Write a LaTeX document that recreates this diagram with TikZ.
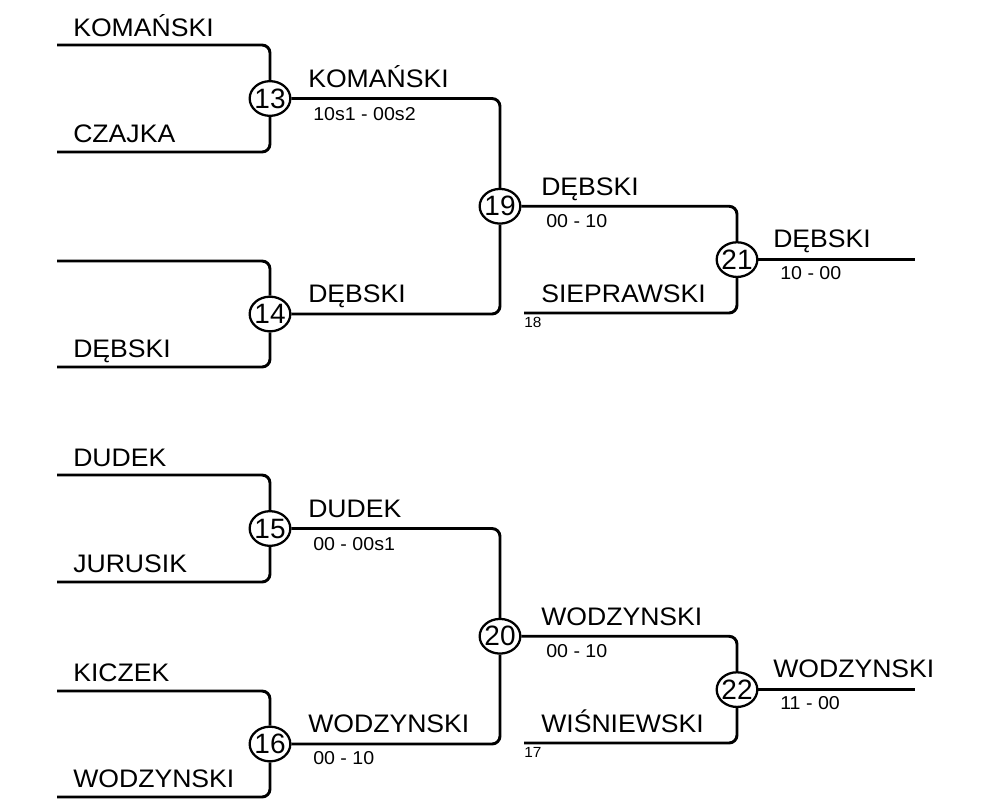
\documentclass[tikz,border=0pt]{standalone}
\usepackage{fontspec}
\setmainfont{Liberation Sans}
\newfontfamily\namefont[FakeStretch=1.05]{Liberation Sans}
\newfontfamily\scorefont[FakeStretch=1.05]{Liberation Sans}
\usetikzlibrary{shapes.geometric}

\begin{document}
\begin{tikzpicture}[line join=round,x=0.75pt,y=-0.75pt,
		game/.style={ellipse,draw,line width=1.7pt,minimum width=30.5pt,minimum height=26pt,inner xsep=-2pt,inner ysep=0pt,font=\fontsize{21}{21}\selectfont},
		player/.style={anchor=base west,inner sep=0pt,font=\namefont\fontsize{19}{22}\selectfont},
		score/.style={anchor=base west,inner sep=0pt,font=\scorefont\fontsize{14}{16}\selectfont},
		seed/.style={anchor=base west,inner sep=0pt,font=\scorefont\fontsize{11}{13}\selectfont},
		branch/.style={line width=2.2pt,rounded corners=6pt}]
	\useasboundingbox (0,0) rectangle (994,810);
	\begin{scope}
		\coordinate (a1) at (57,45);
		\coordinate (a2) at (57,152);
		\coordinate (a3) at (57,261);
		\coordinate (a4) at (57,367);
		\node[game] (g13) at (270,98.5) {13};
		\node[game] (g14) at (270,314) {14};
		\node[game] (g19) at (500,206.25) {19};
		\node[game] (g21) at (737,259.6) {21};
		\coordinate (a18) at (524,313);
		\coordinate (w21) at (915,259.6);
		\draw[branch] (a1) -| (g13);
		\draw[branch] (a2) -| (g13);
		\draw[branch] (a3) -| (g14);
		\draw[branch] (a4) -| (g14);
		\draw[branch] (g13) -| (g19);
		\draw[branch] (g14) -| (g19);
		\draw[branch] (g19) -| (g21);
		\draw[branch] (a18) -| (g21);
		\draw[branch] (g21) -- (w21);
		\node[player] (n1) at (73,36) {KOMAŃSKI};
		\node[player] (n2) at (73,142) {CZAJKA};
		\node[player] (n4) at (73,357) {DĘBSKI};
		\node[player] (n13) at (308,87) {KOMAŃSKI};
		\node[score] (r13) at (313,120) {10s1 - 00s2};
		\node[player] (n14) at (308,302) {DĘBSKI};
		\node[player] (n19) at (541,195) {DĘBSKI};
		\node[score] (r19) at (546,227) {00 - 10};
		\node[player] (n18) at (541,302) {SIEPRAWSKI};
		\node[seed] (s18) at (524,327) {18};
		\node[player] (n21) at (773,247) {DĘBSKI};
		\node[score] (r21) at (780,279) {10 - 00};
	\end{scope}
	\begin{scope}[shift={(0,430)}]
		\coordinate (b1) at (57,45);
		\coordinate (b2) at (57,152);
		\coordinate (b3) at (57,261);
		\coordinate (b4) at (57,367);
		\node[game] (g15) at (270,98.5) {15};
		\node[game] (g16) at (270,314) {16};
		\node[game] (g20) at (500,206.25) {20};
		\node[game] (g22) at (737,259.6) {22};
		\coordinate (b17) at (524,313);
		\coordinate (w22) at (915,259.6);
		\draw[branch] (b1) -| (g15);
		\draw[branch] (b2) -| (g15);
		\draw[branch] (b3) -| (g16);
		\draw[branch] (b4) -| (g16);
		\draw[branch] (g15) -| (g20);
		\draw[branch] (g16) -| (g20);
		\draw[branch] (g20) -| (g22);
		\draw[branch] (b17) -| (g22);
		\draw[branch] (g22) -- (w22);
		\node[player] (m1) at (73,36) {DUDEK};
		\node[player] (m2) at (73,142) {JURUSIK};
		\node[player] (m3) at (73,251) {KICZEK};
		\node[player] (m4) at (73,357) {WODZYNSKI};
		\node[player] (m15) at (308,87) {DUDEK};
		\node[score] (q15) at (313,120) {00 - 00s1};
		\node[player] (m16) at (308,302) {WODZYNSKI};
		\node[score] (q16) at (313,334) {00 - 10};
		\node[player] (m20) at (541,195) {WODZYNSKI};
		\node[score] (q20) at (546,227) {00 - 10};
		\node[player] (m17) at (541,302) {WIŚNIEWSKI};
		\node[seed] (s17) at (524,327) {17};
		\node[player] (m22) at (773,247) {WODZYNSKI};
		\node[score] (q22) at (780,279) {11 - 00};
	\end{scope}
\end{tikzpicture}
\end{document}
